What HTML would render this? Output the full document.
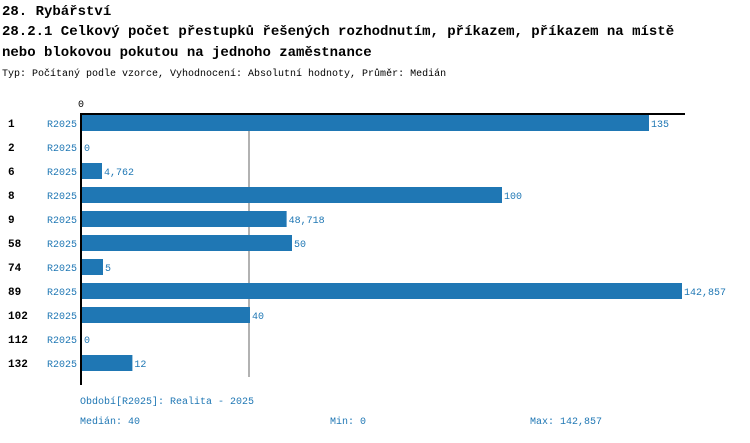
<!DOCTYPE html>
<html><head><meta charset="utf-8">
<style>
body{margin:0;background:#fff;width:750px;height:438px;overflow:hidden;font-family:"Liberation Mono",monospace;}
svg text{font-family:"Liberation Mono",monospace;}
</style></head>
<body>
<svg id="c" width="750" height="438" xmlns="http://www.w3.org/2000/svg">
<text x="2" y="15" font-size="14" font-weight="bold" fill="#000">28. Rybářství</text>
<text x="2" y="35" font-size="14" font-weight="bold" fill="#000">28.2.1 Celkový počet přestupků řešených rozhodnutím, příkazem, příkazem na místě</text>
<text x="2" y="56" font-size="14" font-weight="bold" fill="#000">nebo blokovou pokutou na jednoho zaměstnance</text>
<text x="2" y="76" font-size="10" fill="#000">Typ: Počítaný podle vzorce, Vyhodnocení: Absolutní hodnoty, Průměr: Medián</text>
<g id="bars"></g>
<text x="80" y="404" font-size="10" fill="#1f77b4">Období[R2025]: Realita - 2025</text>
<text x="80" y="424" font-size="10" fill="#1f77b4">Medián: 40</text>
<text x="330" y="424" font-size="10" fill="#1f77b4">Min: 0</text>
<text x="530" y="424" font-size="10" fill="#1f77b4">Max: 142,857</text>
</svg>
<script>
const categories=["1","2","6","8","9","58","74","89","102","112","132"];
const values=[135,0,4.762,100,48.718,50,5,142.857,40,0,12];
const valueLabels=["135","0","4,762","100","48,718","50","5","142,857","40","0","12"];
const median=40;
const NS="http://www.w3.org/2000/svg";
const x0=81, pxPerUnit=4.2, rowTop=123, step=24, bh=16;
const xs=v=>x0+v*pxPerUnit;
const ys=i=>rowTop+i*step;
const g=document.getElementById('bars');
function mk(t,a){const e=document.createElementNS(NS,t);for(const k in a)e.setAttribute(k,a[k]);g.appendChild(e);return e;}
let ml=mk('line',{x1:xs(median),x2:xs(median),y1:114,y2:377,stroke:'#666','stroke-width':1});


categories.forEach((c,i)=>{
  const y=ys(i);
  let t=mk('text',{x:8,y:y+4,'font-size':11,'font-weight':'bold',fill:'#000'});t.textContent=c;
  
  
  let s=mk('text',{x:47,y:y+4,'font-size':10,fill:'#1f77b4'});s.textContent="R2025";
  
  
  const w=xs(values[i])-x0;
  if(w>0){let r=mk('rect',{x:x0+1,y:y-8,width:w,height:bh,fill:'#1f77b4'});
  
  }
  let v=mk('text',{x:xs(values[i])+3,y:y+4,'font-size':10,fill:'#1f77b4'});v.textContent=valueLabels[i];
  
  
});
let ax=mk('line',{x1:80,x2:685,y1:114,y2:114,stroke:'#000','stroke-width':2});


let ay=mk('line',{x1:81,x2:81,y1:113,y2:385,stroke:'#000','stroke-width':2});


let z=mk('text',{x:xs(0),y:107,'font-size':10,fill:'#000','text-anchor':'middle'});z.textContent="0";


</script>
</body></html>
